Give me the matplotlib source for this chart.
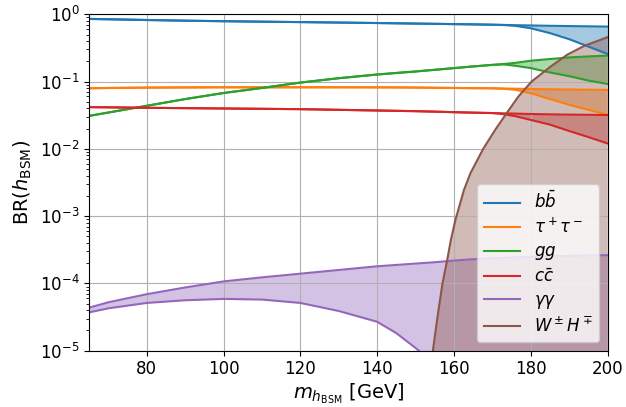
import matplotlib
matplotlib.use("Agg")
import matplotlib.pyplot as plt
import numpy as np

mass = [65, 70, 80, 90, 100, 110, 120, 130, 140, 145, 150, 155, 160, 165, 170, 173, 176, 180, 185, 190, 195, 200]

# branching ratios, stored as log10(BR); upper / lower edge of each band
bb_hi = [-0.069, -0.074, -0.085, -0.095, -0.103, -0.110, -0.116, -0.123, -0.130, -0.134, -0.138,
         -0.142, -0.146, -0.150, -0.155, -0.158, -0.162, -0.166, -0.171, -0.175, -0.179, -0.183]
bb_lo = [-0.069, -0.074, -0.085, -0.095, -0.103, -0.110, -0.116, -0.123, -0.130, -0.134, -0.138,
         -0.142, -0.146, -0.150, -0.155, -0.160, -0.172, -0.208, -0.280, -0.370, -0.480, -0.590]

tau_hi = [-1.100, -1.095, -1.090, -1.087, -1.085, -1.085, -1.085, -1.085, -1.086, -1.087, -1.089,
          -1.092, -1.095, -1.098, -1.100, -1.103, -1.106, -1.110, -1.115, -1.118, -1.121, -1.124]
tau_lo = [-1.100, -1.095, -1.090, -1.087, -1.085, -1.085, -1.085, -1.085, -1.086, -1.087, -1.089,
          -1.092, -1.095, -1.098, -1.100, -1.108, -1.122, -1.173, -1.260, -1.345, -1.420, -1.495]

gg_hi = [-1.510, -1.460, -1.360, -1.260, -1.170, -1.095, -1.015, -0.950, -0.895, -0.872, -0.850,
         -0.825, -0.800, -0.775, -0.752, -0.738, -0.722, -0.690, -0.665, -0.641, -0.626, -0.614]
gg_lo = [-1.510, -1.460, -1.360, -1.260, -1.170, -1.095, -1.015, -0.950, -0.895, -0.872, -0.850,
         -0.825, -0.800, -0.775, -0.752, -0.745, -0.765, -0.800, -0.865, -0.920, -0.985, -1.035]

cc_hi = [-1.380, -1.383, -1.390, -1.395, -1.400, -1.405, -1.410, -1.420, -1.430, -1.435, -1.440,
         -1.447, -1.455, -1.462, -1.468, -1.472, -1.476, -1.482, -1.487, -1.491, -1.494, -1.497]
cc_lo = [-1.380, -1.383, -1.390, -1.395, -1.400, -1.405, -1.410, -1.420, -1.430, -1.435, -1.440,
         -1.447, -1.455, -1.462, -1.468, -1.485, -1.515, -1.570, -1.640, -1.735, -1.825, -1.920]

aa_hi = [-4.36, -4.28, -4.16, -4.06, -3.97, -3.91, -3.855, -3.80, -3.745, -3.725, -3.705,
         -3.685, -3.66, -3.64, -3.625, -3.62, -3.613, -3.605, -3.597, -3.59, -3.585, -3.58]
aa_lo = [-4.43, -4.37, -4.29, -4.25, -4.23, -4.24, -4.29, -4.41, -4.57, -4.74, -4.96,
         -5.20, -7.0, -7.0, -7.0, -7.0, -7.0, -7.0, -7.0, -7.0, -7.0, -7.0]

# W+- H-+ opens near 155 GeV, read on its own mass points
mass_wh = [154.5, 155.7, 157.0, 158.3, 159.2, 160.4, 162.6, 164.3, 167.6, 170.7, 173.7, 176.8,
           180.2, 185.1, 189.5, 193.9, 200]
wh_hi = [-5.0, -4.5, -4.0, -3.63, -3.35, -3.05, -2.61, -2.36, -2.0, -1.72, -1.47, -1.22,
         -1.0, -0.78, -0.60, -0.47, -0.34]
wh_lo = [-7.0] * len(mass_wh)

labels = [r"$b\bar{b}$", r"$\tau^+\tau^-$", r"$gg$", r"$c\bar{c}$", r"$\gamma\gamma$", r"$W^\pm H^\mp$"]

fig = plt.figure(figsize=(6.26, 4.07), dpi=100)
ax = fig.add_axes([0.1425, 0.1383, 0.8281, 0.8266])

bands = [(mass, bb_hi, bb_lo), (mass, tau_hi, tau_lo), (mass, gg_hi, gg_lo),
         (mass, cc_hi, cc_lo), (mass, aa_hi, aa_lo), (mass_wh, wh_hi, wh_lo)]

for i, (x, hi, lo) in enumerate(bands):
    col = f"C{i}"
    hi = 10 ** np.array(hi)
    lo = 10 ** np.array(lo)
    ax.plot(x, hi, color=col, label=labels[i])
    ax.plot(x, lo, color=col)
    ax.fill_between(x, lo, hi, color=col, alpha=0.4, linewidth=0)

ax.set_yscale("log")
ax.set_xlim(65, 200)
ax.set_ylim(1e-5, 1)
ax.grid(True)
ax.tick_params(labelsize=12)
ax.set_xlabel(r"$m_{h_{\rm BSM}}$ [GeV]", fontsize=14, labelpad=2)
ax.set_ylabel(r"BR($h_{\rm BSM}$)", fontsize=14)
ax.legend(loc="lower right", fontsize=12, labelspacing=0.32, handlelength=2.2)

fig.savefig("out.png", dpi=100)
